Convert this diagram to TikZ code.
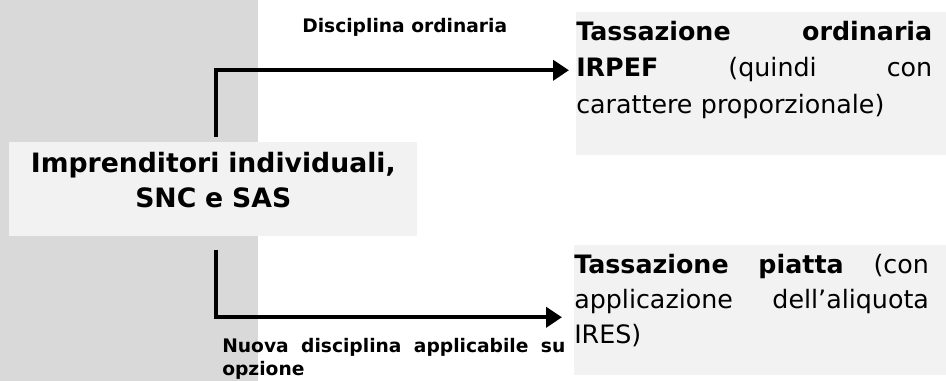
\documentclass[tikz,border=0pt]{standalone}
\usepackage{fontspec}
\setmainfont{DejaVu Sans}
\usetikzlibrary{arrows.meta}
\definecolor{bggray}{HTML}{D9D9D9}
\definecolor{boxgray}{HTML}{F2F2F2}
\newcommand{\jline}[2]{\makebox[#1][s]{#2}}

\begin{document}
\begin{tikzpicture}[x=0.75pt,y=-0.75pt,
  box/.style={fill=boxgray,inner sep=0pt,align=left,anchor=north west},
  lbl/.style={inner sep=0pt,font=\bfseries\fontsize{14}{17.25}\selectfont},
  link/.style={line width=3pt,-{Triangle[length=12pt,width=15pt]}}]
\useasboundingbox (0,0) rectangle (946,381);
\fill[bggray] (0,0) rectangle (258,381);
\node[box,align=center,text width=306pt,text height=22.5pt,text depth=48pt,
  font=\bfseries\fontsize{20}{26.25}\selectfont] (imp) at (9,142)
  {Imprenditori individuali,\\SNC e SAS};
\node[box,text width=277.5pt,text height=21pt,text depth=86.25pt,
  font=\fontsize{19}{27.5}\selectfont] (ord) at (576,12)
  {\jline{267pt}{\textbf{Tassazione}\hfill\textbf{ordinaria}}\\
   \jline{267pt}{\textbf{IRPEF}\hfill(quindi\hfill con}\\
   carattere proporzionale)};
\node[box,text width=279pt,text height=21pt,text depth=76.5pt,
  font=\fontsize{19}{26.25}\selectfont] (pia) at (574,245)
  {\jline{266pt}{\textbf{Tassazione}\hfill\textbf{piatta}\hfill(con}\\
   \jline{266pt}{applicazione\hfill dell’aliquota}\\
   IRES)};
\node[lbl,anchor=base west] (dord) at (302,33) {Disciplina ordinaria};
\node[lbl,anchor=base west,text width=257.25pt,align=left] (dnuova) at (222,352)
  {\jline{257.25pt}{Nuova\hfill disciplina\hfill applicabile\hfill su}\\opzione};
\draw[link,shorten <=3.75pt,shorten >=5.25pt]
  ([xshift=2.25pt]imp.north) |- ([yshift=10.125pt]ord.west);
\draw[link,shorten <=9.75pt,shorten >=9pt]
  ([xshift=2.25pt]imp.south) |- ([yshift=-5.25pt]pia.west);
\end{tikzpicture}
\end{document}
